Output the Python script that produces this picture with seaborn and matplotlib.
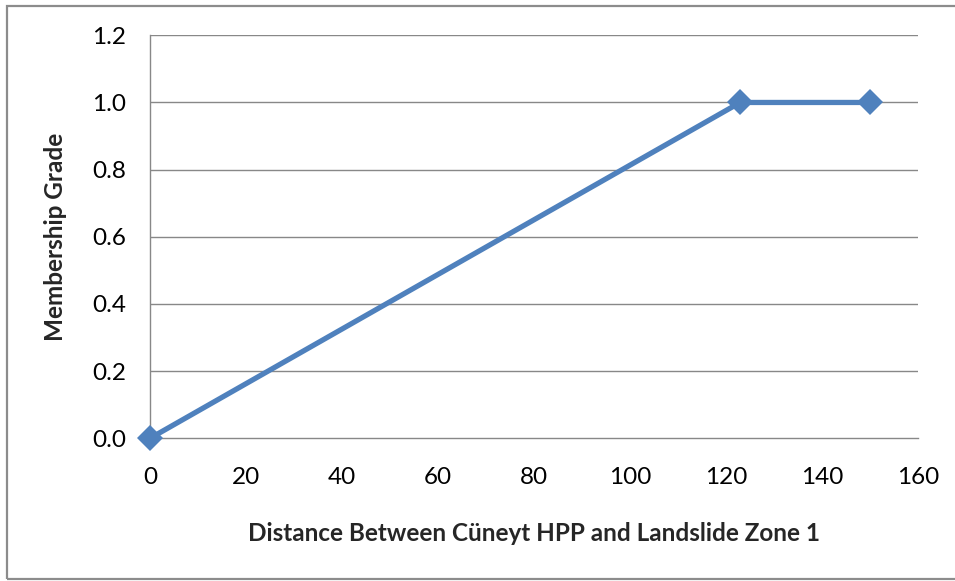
import matplotlib
matplotlib.use("Agg")
import matplotlib.pyplot as plt
from matplotlib.patches import Rectangle
import seaborn as sns
import pandas as pd

# Membership function breakpoints
distance = [0, 123, 150]
membership = [0.0, 1.0, 1.0]

x_ticks = [0, 20, 40, 60, 80, 100, 120, 140, 160]
y_ticks = [0.0, 0.2, 0.4, 0.6, 0.8, 1.0, 1.2]

x_label = "Distance Between Cüneyt HPP and Landslide Zone 1"
y_label = "Membership Grade"

sns.set_theme(style="white")
plt.rcParams["font.family"] = ["Lato", "DejaVu Sans"]

df = pd.DataFrame({"distance": distance, "membership": membership})

fig = plt.figure(figsize=(9.55, 5.81), dpi=100)
fig.patch.set_facecolor("white")

# chart border
fig.patches.append(Rectangle((7 / 955, 2 / 581), 1.2, 573 / 581,
                             transform=fig.transFigure, fill=False,
                             edgecolor="#8c8c8c", linewidth=1.6, zorder=0))

ax_h = 403.0
ax_w = 767.7
ax = fig.add_axes([150 / 955, 1 - 438.3 / 581, ax_w / 955, ax_h / 581])

grid_color = "#888888"
for y in y_ticks[1:]:
    ax.axhline(y, color=grid_color, linewidth=1.0, zorder=1)

sns.lineplot(data=df, x="distance", y="membership", ax=ax,
             color="#4F81BD", linewidth=3.8, marker="D", markersize=13.5,
             markeredgewidth=0, zorder=3, clip_on=False)

ax.set_xlim(0, 160)
ax.set_ylim(0, 1.2)
ax.set_xticks(x_ticks)
ax.set_xticklabels([str(v) for v in x_ticks])
ax.set_yticks(y_ticks)
ax.set_yticklabels([f"{v:.1f}" for v in y_ticks])

for side in ("top", "right"):
    ax.spines[side].set_visible(False)
for side in ("left", "bottom"):
    ax.spines[side].set_color(grid_color)
    ax.spines[side].set_linewidth(1.0)

ax.tick_params(axis="both", which="major", direction="out", length=6,
               width=1.0, color=grid_color, labelsize=17.5, labelcolor="black")
ax.tick_params(axis="y", pad=11)
ax.tick_params(axis="x", pad=15)

ax.set_xlabel(x_label, fontsize=17.5, fontweight="bold")
ax.set_ylabel(y_label, fontsize=17.5, fontweight="bold")
ax.xaxis.set_label_coords(0.5, -(522 - 438.3) / ax_h)
ax.yaxis.set_label_coords(-(150 - 67) / ax_w, 0.5)

fig.savefig("out.png", dpi=100, facecolor="white")
